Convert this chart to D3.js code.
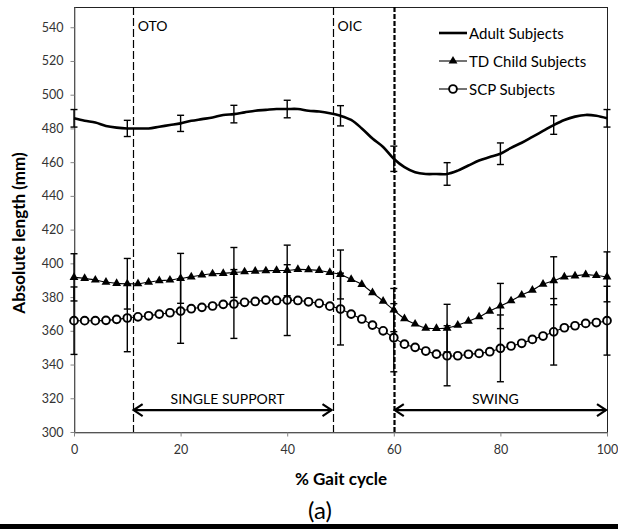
<!DOCTYPE html>
<html>
<head>
<meta charset="utf-8">
<script src="https://d3js.org/d3.v7.min.js"></script>
<style>
  body { margin: 0; background: #fff; }
  svg { display: block; font-family: Lato, "Open Sans", sans-serif; }
</style>
</head>
<body>
<svg id="chart"></svg>
<script>
// % gait cycle sample points
const gaitPct = [0, 2, 4, 6, 8, 10, 12, 14, 16, 18, 20, 22, 24, 26, 28, 30, 32, 34, 36, 38, 40,
  42, 44, 46, 48, 50, 52, 54, 56, 58, 60, 62, 64, 66, 68, 70, 72, 74, 76, 78, 80,
  82, 84, 86, 88, 90, 92, 94, 96, 98, 100];

// absolute length (mm)
const adult = [486, 484.5, 483.5, 481.5, 480.5, 480, 480, 480, 481, 482, 483, 484.5, 485.5, 486.5, 488, 488.5,
  489.5, 490.5, 491, 491.5, 491.5, 491.5, 490.5, 490, 489, 487.5, 485, 480, 474, 469, 462, 457, 454, 453,
  453, 453, 455, 458, 461, 463, 465, 468.5, 471.5, 475, 478.5, 482, 485, 487, 488, 487.5, 486];
const tdChild = [391.7, 391.1, 390.1, 388.9, 388.1, 387.9, 387.9, 388.9, 389.7, 390.1, 391.1, 392, 393.1,
  393.8, 394, 394.6, 395, 395.4, 395.6, 395.8, 395.8, 396.4, 396.2, 395.8, 394.6, 393.4, 390.5, 387.5,
  382.6, 377.6, 372.3, 367.2, 364, 361.6, 361.4, 361.6, 363.4, 365.7, 368.3, 371.7, 374.7, 377.8, 381.2,
  384.1, 387.7, 389.7, 392, 392.6, 393.3, 392.8, 392];
const scp = [366, 366, 366, 366.2, 366.8, 367.6, 368.3, 368.9, 369.9, 370.7, 371.7, 373.1, 373.9, 374.7,
  375.7, 375.9, 376.9, 377.4, 378.2, 378, 378.2, 378, 377.2, 376.3, 374.6, 372.9, 369.9, 367, 363.4, 360,
  355.9, 352.1, 350.2, 348, 346.2, 345.2, 345.2, 346.1, 346.6, 347.6, 349.6, 351, 352.6, 354.9, 356.9,
  359.4, 361.8, 363, 364.4, 364.9, 366];

// error bars (SD) every 10%
const errPct = [0, 10, 20, 30, 40, 50, 60, 70, 80, 90, 100];
const adultSD = [5.2, 4.8, 4.8, 5.2, 5.2, 6, 7.5, 6.7, 6.4, 5.5, 5.2];
const tdChildSD = [14, 15, 14.8, 14.8, 15, 14.5, 12.8, 14.1, 13.4, 14.2, 14.8];
const scpSD = [20, 20, 19.1, 20.4, 21, 21.3, 20.2, 17.8, 19.8, 19.7, 20.4];

const seriesNames = ["Adult Subjects", "TD Child Subjects", "SCP Subjects"];

// gait events and phases
const eventNames = ["OTO", "OIC", ""];
const eventPct = [11, 48.5, 60];
const phaseNames = ["SINGLE SUPPORT", "SWING"];
const phaseStart = [11, 60];
const phaseEnd = [48.5, 100];
const phaseLevel = 313;

const xTicks = [0, 20, 40, 60, 80, 100];
const yTicks = [300, 320, 340, 360, 380, 400, 420, 440, 460, 480, 500, 520, 540];

const width = 618, height = 529;
const margin = { top: 7, left: 74, right: 11, bottom: 97 };

const svg = d3.select('#chart')
  .attr('width', width)
  .attr('height', height);

const xScale = d3.scaleLinear().domain([0, 100]).range([margin.left, width - margin.right]);
const yScale = d3.scaleLinear().domain([300, 552]).range([height - margin.bottom, margin.top]);

// plot area border
svg.append('rect')
  .attr('x', margin.left + 0.5)
  .attr('y', margin.top + 0.5)
  .attr('width', xScale(100) - xScale(0))
  .attr('height', yScale(300) - yScale(552))
  .attr('fill', 'none')
  .attr('stroke', '#222')
  .attr('stroke-width', 1);

// axes
const yAxis = svg.append('g')
  .attr('transform', `translate(${margin.left + 0.5},0)`)
  .call(d3.axisLeft(yScale).tickValues(yTicks).tickSize(4).tickSizeOuter(0).tickPadding(7));
const xAxis = svg.append('g')
  .attr('transform', `translate(0,${yScale(300) + 0.5})`)
  .call(d3.axisBottom(xScale).tickValues(xTicks).tickSize(4).tickSizeOuter(0).tickPadding(9));
[xAxis, yAxis].forEach(a => {
  a.select('.domain').attr('stroke', '#868686');
  a.selectAll('.tick line').attr('stroke', '#868686');
  a.selectAll('.tick text').attr('fill', '#333').attr('font-size', 12.5)
    .attr('font-family', 'Lato, "Open Sans", sans-serif');
});

// gait event lines
svg.append('g').selectAll('line')
  .data(eventPct)
  .join('line')
  .attr('x1', d => Math.round(xScale(d)) + 0.5)
  .attr('x2', d => Math.round(xScale(d)) + 0.5)
  .attr('y1', yScale(552))
  .attr('y2', yScale(300))
  .attr('stroke', '#000')
  .attr('stroke-width', (d, i) => i === 2 ? 2.2 : 1.2)
  .attr('stroke-dasharray', (d, i) => i === 2 ? '5,2' : '8,3');

svg.append('g').selectAll('text')
  .data(eventNames)
  .join('text')
  .attr('x', (d, i) => xScale(eventPct[i]) + 5)
  .attr('y', 25)
  .attr('dominant-baseline', 'central')
  .attr('font-size', 14)
  .attr('fill', '#000')
  .text(d => d);

// phase arrows
const arrowY = yScale(phaseLevel);
phaseNames.forEach((name, i) => {
  const x0 = xScale(phaseStart[i]) + 1, x1 = xScale(phaseEnd[i]) - 1;
  svg.append('line')
    .attr('x1', x0).attr('x2', x1)
    .attr('y1', arrowY).attr('y2', arrowY)
    .attr('stroke', '#000').attr('stroke-width', 2.2);
  svg.append('path')
    .attr('d', `M${x0 + 9},${arrowY - 6}L${x0},${arrowY}L${x0 + 9},${arrowY + 6}` +
               `M${x1 - 9},${arrowY - 6}L${x1},${arrowY}L${x1 - 9},${arrowY + 6}`)
    .attr('fill', 'none').attr('stroke', '#000').attr('stroke-width', 2.2);
  svg.append('text')
    .attr('x', (x0 + x1) / 2 - 5)
    .attr('y', arrowY - 12)
    .attr('text-anchor', 'middle')
    .attr('dominant-baseline', 'central')
    .attr('font-size', 14)
    .text(name);
});

// series lines
const line = vals => d3.line()
  .x((d, i) => xScale(gaitPct[i]))
  .y(d => yScale(d))
  .curve(d3.curveCatmullRom)(vals);

svg.append('path').attr('d', line(adult))
  .attr('fill', 'none').attr('stroke', '#000').attr('stroke-width', 2.6);
svg.append('path').attr('d', line(tdChild))
  .attr('fill', 'none').attr('stroke', '#000').attr('stroke-width', 1.1);
svg.append('path').attr('d', line(scp))
  .attr('fill', 'none').attr('stroke', '#000').attr('stroke-width', 1.1);

// markers
const tri = d3.symbol(d3.symbolTriangle).size(34);
svg.append('g').selectAll('path')
  .data(tdChild)
  .join('path')
  .attr('d', tri)
  .attr('transform', (d, i) => `translate(${xScale(gaitPct[i])},${yScale(d)})`)
  .attr('fill', '#000');

svg.append('g').selectAll('circle')
  .data(scp)
  .join('circle')
  .attr('cx', (d, i) => xScale(gaitPct[i]))
  .attr('cy', d => yScale(d))
  .attr('r', 3.9)
  .attr('fill', '#fff')
  .attr('stroke', '#000')
  .attr('stroke-width', 1.9);

// error bars
function errorBars(vals, sds) {
  const g = svg.append('g').attr('stroke', '#000').attr('stroke-width', 1.4);
  errPct.forEach((p, i) => {
    const m = vals[gaitPct.indexOf(p)];
    const cx = xScale(p);
    const top = yScale(m + sds[i]), bot = yScale(m - sds[i]);
    g.append('line').attr('x1', cx).attr('x2', cx).attr('y1', top).attr('y2', bot);
    g.append('line').attr('x1', cx - 3.5).attr('x2', cx + 3.5).attr('y1', top).attr('y2', top);
    g.append('line').attr('x1', cx - 3.5).attr('x2', cx + 3.5).attr('y1', bot).attr('y2', bot);
  });
}
errorBars(adult, adultSD);
errorBars(tdChild, tdChildSD);
errorBars(scp, scpSD);

// legend
const legend = svg.append('g');
seriesNames.forEach((name, i) => {
  const ly = 33 + i * 28;
  legend.append('line')
    .attr('x1', 439).attr('x2', 467).attr('y1', ly).attr('y2', ly)
    .attr('stroke', '#000').attr('stroke-width', i === 0 ? 2.6 : 1.1);
  if (i === 1) {
    legend.append('path').attr('d', tri).attr('transform', `translate(453,${ly})`).attr('fill', '#000');
  } else if (i === 2) {
    legend.append('circle').attr('cx', 453).attr('cy', ly).attr('r', 3.9)
      .attr('fill', '#fff').attr('stroke', '#000').attr('stroke-width', 1.9);
  }
  legend.append('text')
    .attr('x', 469).attr('y', ly)
    .attr('dominant-baseline', 'central')
    .attr('font-size', 15)
    .text(name);
});

// axis titles
svg.append('text')
  .attr('transform', 'translate(18,233) rotate(-90)')
  .attr('text-anchor', 'middle')
  .attr('dominant-baseline', 'central')
  .attr('font-size', 17)
  .attr('font-weight', 'bold')
  .text('Absolute length (mm)');

svg.append('text')
  .attr('x', 341).attr('y', 478)
  .attr('text-anchor', 'middle')
  .attr('dominant-baseline', 'central')
  .attr('font-size', 17)
  .attr('font-weight', 'bold')
  .text('% Gait cycle');

svg.append('text')
  .attr('x', 320).attr('y', 509)
  .attr('text-anchor', 'middle')
  .attr('dominant-baseline', 'central')
  .attr('font-size', 24)
  .text('(a)');

// rule under the figure
svg.append('rect')
  .attr('x', 0).attr('y', 524)
  .attr('width', width).attr('height', 5)
  .attr('fill', '#000');
</script>
</body>
</html>
